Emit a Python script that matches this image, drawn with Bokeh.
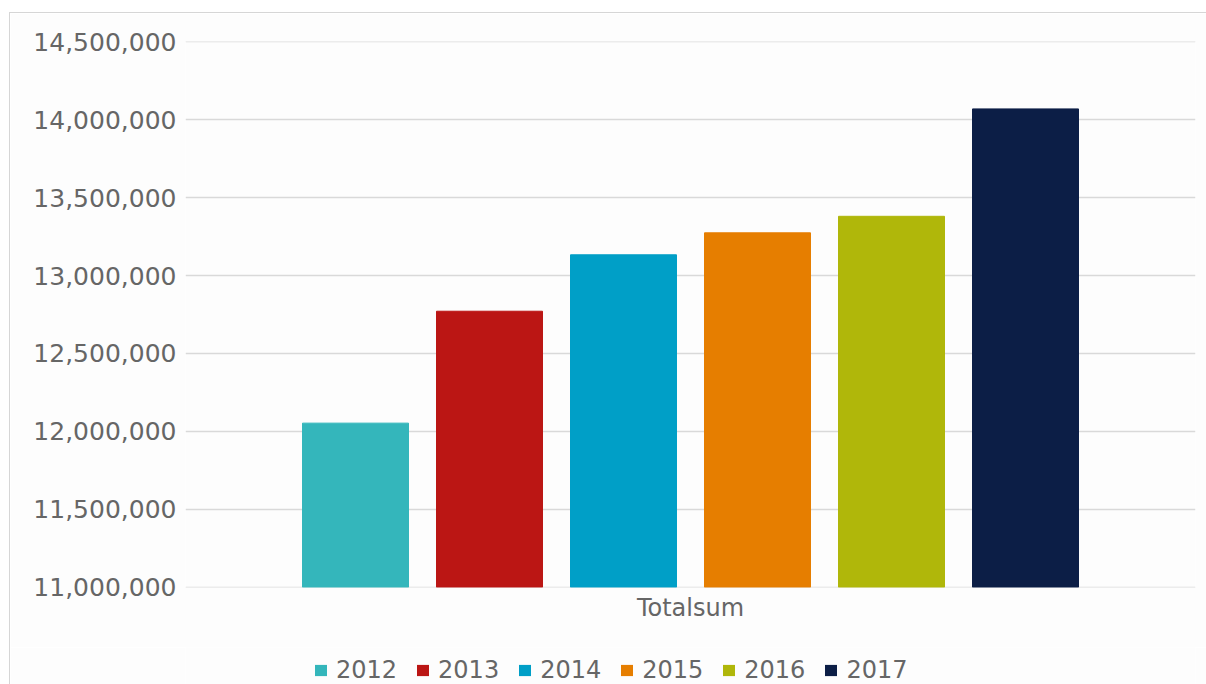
from bokeh.plotting import figure
from bokeh.layouts import column
from bokeh.models import (FactorRange, Range1d, NumeralTickFormatter, FixedTicker,
                          Legend, LegendItem, ColumnDataSource)
from bokeh.transform import dodge
from bokeh.embed import file_html
from bokeh.resources import INLINE

# ---- data ----
category = ["Totalsum"]
years = ["2012", "2013", "2014", "2015", "2016", "2017"]
totals = [12053000, 12771000, 13133000, 13274000, 13380000, 14069000]
colors = ["#34b6bb", "#bb1614", "#009fc7", "#e67e00", "#b0b70a", "#0c1e46"]
y_ticks = [11000000, 11500000, 12000000, 12500000, 13000000, 13500000, 14000000, 14500000]

FONT = "DejaVu Sans"
TXT = "#666666"
BG = "#fdfdfd"

W = 1196          # chart area inside the border (page is 1206 x 684)
H1, H2 = 634, 37  # main chart + legend strip

main = figure(x_range=FactorRange(*category),
              y_range=Range1d(y_ticks[0] - 1500, y_ticks[-1] + 1500),
              width=W, height=H1, output_backend="svg", toolbar_location=None,
              min_border_left=175, min_border_right=11, min_border_top=28, min_border_bottom=60,
              background_fill_color=BG, border_fill_color=BG)
main.outline_line_color = None

frame_w = W - 175 - 11
pitch = 134 / frame_w
bar_w = 106 / frame_w

leg_fig = figure(width=W, height=H2, output_backend="svg", toolbar_location=None,
                 x_range=Range1d(0, 1), y_range=Range1d(0, 1),
                 x_axis_type=None, y_axis_type=None, min_border=0,
                 background_fill_color=BG, border_fill_color=BG)
leg_fig.outline_line_color = None
leg_fig.grid.visible = False

items = []
for i, (yr, val, col) in enumerate(zip(years, totals, colors)):
    src = ColumnDataSource(dict(x=category, top=[val]))
    main.vbar(x=dodge("x", (i - (len(years) - 1) / 2) * pitch, range=main.x_range),
              top="top", bottom=y_ticks[0], width=bar_w, source=src,
              fill_color=col, line_color=col, line_width=1)
    # legend swatch renderer: same colour, zero-width bar so nothing shows in the strip
    r = leg_fig.vbar(x=0.5, top="top", bottom=y_ticks[0], width=0, source=src,
                     fill_color=col, line_color=col, line_alpha=0)
    items.append(LegendItem(label=yr, renderers=[r]))

legend = Legend(items=items, orientation="horizontal", location=(128, 0),
                glyph_width=15, glyph_height=14, label_standoff=8, spacing=18,
                padding=0, margin=0, border_line_alpha=0, background_fill_alpha=0,
                label_text_font_size="24px", label_text_color=TXT, label_text_font=FONT)
leg_fig.add_layout(legend, "center")

main.yaxis.ticker = FixedTicker(ticks=y_ticks)
main.yaxis.formatter = NumeralTickFormatter(format="0,0")
main.yaxis.axis_line_color = None
main.yaxis.major_tick_line_color = None
main.yaxis.minor_tick_line_color = None
main.yaxis.major_label_standoff = 3
main.yaxis.major_label_text_font_size = "25px"
main.yaxis.major_label_text_font = FONT
main.yaxis.major_label_text_color = TXT

main.xaxis.axis_line_color = None
main.xaxis.major_tick_line_color = None
main.xaxis.minor_tick_line_color = None
main.xaxis.major_label_standoff = 0
main.xaxis.major_label_text_font_size = "24px"
main.xaxis.major_label_text_font = FONT
main.xaxis.major_label_text_color = TXT

main.xgrid.grid_line_color = None
main.ygrid.grid_line_color = "#d9d9d9"
main.ygrid.grid_line_width = 1.5

p = column(main, leg_fig, spacing=0,
           styles={"margin-left": "9px", "margin-top": "12px",
                   "border-left": "1px solid #d6d6d6", "border-top": "1px solid #d6d6d6"})

open("out.html", "w").write(file_html(p, INLINE))
